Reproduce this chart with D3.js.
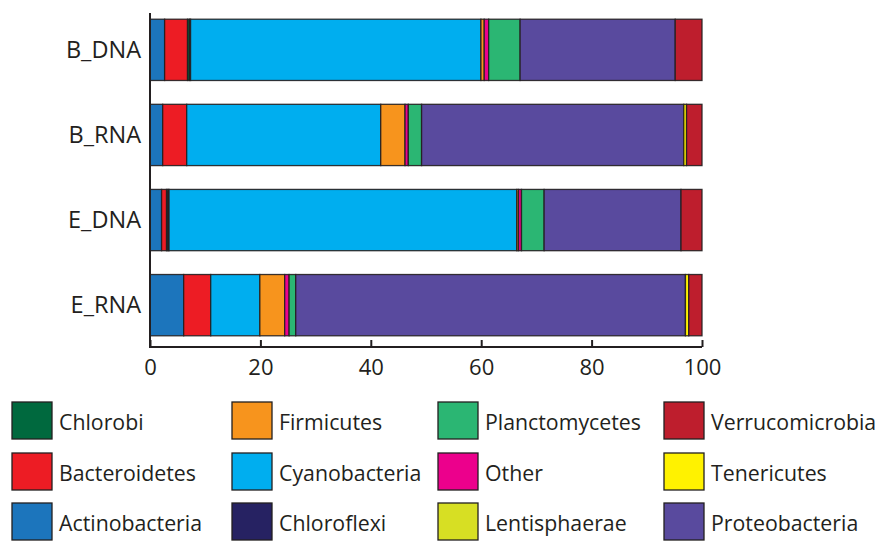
<!DOCTYPE html>
<html>
<head>
<meta charset="utf-8">
<script src="https://cdn.jsdelivr.net/npm/d3@7"></script>
<style>
  body { margin: 0; background: #fff; }
  text { font-family: "Open Sans", "Noto Sans", sans-serif; fill: #231f20; }
</style>
</head>
<body>
<div class="graph"></div>
<script>
const samples = ["B_DNA", "B_RNA", "E_DNA", "E_RNA"];
const taxa = ["Actinobacteria", "Bacteroidetes", "Chlorobi", "Chloroflexi", "Cyanobacteria",
  "Firmicutes", "Lentisphaerae", "Other", "Planctomycetes", "Proteobacteria",
  "Tenericutes", "Verrucomicrobia"];
const colors = ["#1c75bc", "#ed1c24", "#00693e", "#262262", "#00aeef",
  "#f7941d", "#d7df23", "#ec008c", "#2bb673", "#594a9e",
  "#fff200", "#be1e2d"];

// percent per taxon, one array per sample (same order as taxa)
const bDNA = [2.65, 4.15, 0.35, 0.2, 52.6, 0.6, 0, 0.8, 5.7, 28.1, 0, 4.85];
const bRNA = [2.3, 4.35, 0, 0, 35.15, 4.4, 0, 0.6, 2.4, 47.5, 0.5, 2.8];
const eDNA = [2.1, 0.9, 0.25, 0.2, 63.0, 0.3, 0, 0.55, 4.1, 24.8, 0, 3.8];
const eRNA = [6.1, 4.9, 0, 0, 8.9, 4.5, 0, 0.8, 1.2, 70.6, 0.6, 2.4];
const xTicks = [0, 20, 40, 60, 80, 100];

// legend is laid out column by column, bottom to top
const legendCols = [
  ["Chlorobi", "Bacteroidetes", "Actinobacteria"],
  ["Firmicutes", "Cyanobacteria", "Chloroflexi"],
  ["Planctomycetes", "Other", "Lentisphaerae"],
  ["Verrucomicrobia", "Tenericutes", "Proteobacteria"]
];

let width = 881, height = 542;
let svg = d3.select(".graph").append("svg")
  .attr("width", width).attr("height", height);

let rows = [bDNA, bRNA, eDNA, eRNA].map(function(vals, i){
  let obj = {sample: samples[i]};
  taxa.forEach(function(t, j){ obj[t] = vals[j]; });
  return obj;
});

let x = d3.scaleLinear().domain([0, 100]).range([150, 702]);
let y = d3.scaleBand().domain(samples).range([7.3, 347.7])
  .paddingInner(0.28).paddingOuter(0.14);
let color = d3.scaleOrdinal().domain(taxa).range(colors);

let series = d3.stack().keys(taxa)(rows);

svg.append("g").selectAll("g")
  .data(series)
  .enter().append("g")
  .attr("fill", function(d){ return color(d.key); })
  .selectAll("rect")
  .data(function(d){ return d; })
  .enter().append("rect")
  .attr("x", function(d){ return x(d[0]); })
  .attr("y", function(d){ return y(d.data.sample); })
  .attr("width", function(d){ return x(d[1]) - x(d[0]); })
  .attr("height", y.bandwidth())
  .attr("stroke", "#231f20")
  .attr("stroke-width", 1.3)
  .attr("stroke-opacity", function(d){ return d[1] - d[0] > 0 ? 0.9 : 0; });

// x axis with inward ticks
let xAxis = svg.append("g")
  .attr("transform", "translate(0,347)")
  .call(d3.axisBottom(x).tickValues(xTicks).tickSize(-7).tickPadding(12));
xAxis.select(".domain").attr("stroke", "#231f20").attr("stroke-width", 2)
  .attr("d", "M150,0H702");
xAxis.selectAll(".tick line").attr("stroke", "#231f20").attr("stroke-width", 2);
xAxis.selectAll("text").attr("font-size", 22).attr("fill", "#231f20")
  .attr("font-family", "'Open Sans', sans-serif");

// y axis line and labels
svg.append("line")
  .attr("x1", 150).attr("x2", 150).attr("y1", 13).attr("y2", 348)
  .attr("stroke", "#231f20").attr("stroke-width", 2);

svg.append("g").selectAll("text")
  .data(samples)
  .enter().append("text")
  .attr("x", 141)
  .attr("y", function(d){ return y(d) + y.bandwidth() / 2; })
  .attr("dy", "0.35em")
  .attr("text-anchor", "end")
  .attr("font-size", 23.5)
  .text(function(d){ return d; });

// legend
let colX = [12, 232, 438, 664];
let rowY = [402, 453, 503];
legendCols.forEach(function(col, ci){
  col.forEach(function(name, ri){
    let g = svg.append("g")
      .attr("transform", "translate(" + colX[ci] + "," + rowY[ri] + ")");
    g.append("rect")
      .attr("width", 40).attr("height", 37)
      .attr("fill", color(name))
      .attr("stroke", "#231f20").attr("stroke-width", 1.3);
    g.append("text")
      .attr("x", 47).attr("y", 21).attr("dy", "0.35em")
      .attr("font-size", 21.3)
      .text(name);
  });
});
</script>
</body>
</html>
